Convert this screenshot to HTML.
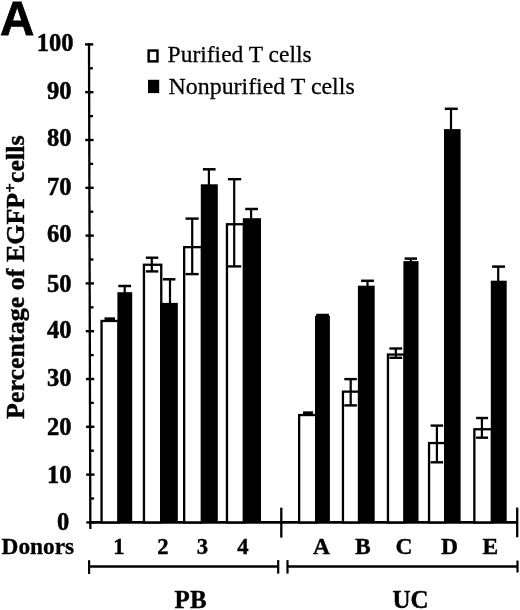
<!DOCTYPE html>
<html><head><meta charset="utf-8"><title>Percentage of EGFP+ cells</title>
<style>
html,body{margin:0;padding:0;background:#fff;}
body{width:520px;height:610px;overflow:hidden;position:relative;}
svg{position:absolute;left:0;top:0;}
.yl{font-family:"Liberation Serif",serif;font-weight:bold;stroke:#000;stroke-width:0.5px;font-size:24.5px;text-anchor:end;letter-spacing:0px;}
.xl{font-family:"Liberation Serif",serif;font-weight:bold;stroke:#000;stroke-width:0.4px;font-size:22.6px;text-anchor:middle;}
.xlL{font-size:23.5px;}
.grp{font-family:"Liberation Serif",serif;font-weight:bold;stroke:#000;stroke-width:0.4px;font-size:25px;text-anchor:middle;}
.don{font-family:"Liberation Serif",serif;font-weight:bold;stroke:#000;stroke-width:0.3px;font-size:22.7px;}
.leg{font-family:"Liberation Serif",serif;stroke:#000;stroke-width:0.25px;font-size:23px;}
.pan{font-family:"Liberation Sans",sans-serif;font-weight:bold;stroke:#000;stroke-width:0.8px;font-size:47.5px;}
.ytl{font-family:"Liberation Serif",serif;font-weight:bold;stroke:#000;stroke-width:0.4px;font-size:26px;}
</style></head>
<body>
<svg width="520" height="610" viewBox="0 0 520 610">
<rect x="0" y="0" width="520" height="610" fill="#fff"/>
<text x="0" y="34.6" class="pan">A</text>
<text transform="translate(24.1,419) rotate(-90)" class="ytl">Percentage of EGFP<tspan font-size="17" dy="-8">+</tspan><tspan dy="8">cells</tspan></text>
<rect x="148.65" y="50.55" width="8.8" height="10.8" fill="#fff" stroke="#000" stroke-width="2.5"/>
<rect x="148" y="79.8" width="11.2" height="13.3" fill="#000"/>
<text transform="translate(167.6,62.4) scale(1.022,1)" class="leg">Purified T cells</text>
<text transform="translate(168.6,93.6) scale(1.038,1)" class="leg">Nonpurified T cells</text>
<text transform="translate(1.5,554.2) scale(1.03,1)" class="don">Donors</text>
<text x="190.6" y="607.9" class="grp">PB</text>
<text x="410.5" y="608" class="grp">UC</text>
<line x1="89.00" y1="43.2" x2="90.34" y2="529" stroke="#000" stroke-width="2.3"/>
<line x1="86.32" y1="522.4" x2="94.62" y2="522.4" stroke="#000" stroke-width="2.4"/>
<line x1="90.26" y1="498.5" x2="94.06" y2="498.5" stroke="#000" stroke-width="2.3"/>
<line x1="86.19" y1="474.6" x2="94.49" y2="474.6" stroke="#000" stroke-width="2.4"/>
<line x1="90.12" y1="450.7" x2="93.92" y2="450.7" stroke="#000" stroke-width="2.3"/>
<line x1="86.06" y1="426.8" x2="94.36" y2="426.8" stroke="#000" stroke-width="2.4"/>
<line x1="89.99" y1="402.9" x2="93.79" y2="402.9" stroke="#000" stroke-width="2.3"/>
<line x1="85.93" y1="379.0" x2="94.23" y2="379.0" stroke="#000" stroke-width="2.4"/>
<line x1="89.86" y1="355.1" x2="93.66" y2="355.1" stroke="#000" stroke-width="2.3"/>
<line x1="85.79" y1="331.2" x2="94.09" y2="331.2" stroke="#000" stroke-width="2.4"/>
<line x1="89.73" y1="307.3" x2="93.53" y2="307.3" stroke="#000" stroke-width="2.3"/>
<line x1="85.66" y1="283.4" x2="93.96" y2="283.4" stroke="#000" stroke-width="2.4"/>
<line x1="89.60" y1="259.5" x2="93.40" y2="259.5" stroke="#000" stroke-width="2.3"/>
<line x1="85.53" y1="235.6" x2="93.83" y2="235.6" stroke="#000" stroke-width="2.4"/>
<line x1="89.46" y1="211.7" x2="93.26" y2="211.7" stroke="#000" stroke-width="2.3"/>
<line x1="85.40" y1="187.8" x2="93.70" y2="187.8" stroke="#000" stroke-width="2.4"/>
<line x1="89.33" y1="163.9" x2="93.13" y2="163.9" stroke="#000" stroke-width="2.3"/>
<line x1="85.27" y1="140.0" x2="93.57" y2="140.0" stroke="#000" stroke-width="2.4"/>
<line x1="89.20" y1="116.1" x2="93.00" y2="116.1" stroke="#000" stroke-width="2.3"/>
<line x1="85.13" y1="92.2" x2="93.43" y2="92.2" stroke="#000" stroke-width="2.4"/>
<line x1="89.07" y1="68.3" x2="92.87" y2="68.3" stroke="#000" stroke-width="2.3"/>
<line x1="85.00" y1="44.4" x2="93.30" y2="44.4" stroke="#000" stroke-width="2.4"/>
<line x1="89" y1="522.4" x2="517.2" y2="522.4" stroke="#000" stroke-width="2.6"/>
<line x1="281.3" y1="507.7" x2="281.3" y2="537.6" stroke="#000" stroke-width="2.3"/>
<line x1="517.2" y1="507.6" x2="517.2" y2="537.3" stroke="#000" stroke-width="2.3"/>
<line x1="89.1" y1="566.5" x2="278.2" y2="566.5" stroke="#000" stroke-width="2.5"/>
<line x1="89.1" y1="560.2" x2="89.1" y2="574" stroke="#000" stroke-width="2.2"/>
<line x1="278.2" y1="560.1" x2="278.2" y2="573.6" stroke="#000" stroke-width="2.2"/>
<line x1="287.5" y1="566.6" x2="517.5" y2="566.6" stroke="#000" stroke-width="2.5"/>
<line x1="287.5" y1="560.1" x2="287.5" y2="573.6" stroke="#000" stroke-width="2.2"/>
<line x1="517.5" y1="560.5" x2="517.5" y2="572.5" stroke="#000" stroke-width="2.2"/>
<rect x="101.55" y="320.95" width="17.00" height="201.45" fill="#fff" stroke="#000" stroke-width="2.3"/>
<line x1="104.5" y1="318.8" x2="115.0" y2="318.8" stroke="#000" stroke-width="2.9"/>
<rect x="117.40" y="292.20" width="14.80" height="230.20" fill="#000"/>
<line x1="118.3" y1="286.0" x2="131.1" y2="286.0" stroke="#000" stroke-width="2.5"/>
<line x1="124.7" y1="286.0" x2="124.7" y2="293.2" stroke="#000" stroke-width="2.2"/>
<rect x="143.95" y="264.75" width="17.30" height="257.65" fill="#fff" stroke="#000" stroke-width="2.3"/>
<line x1="145.9" y1="257.7" x2="158.3" y2="257.7" stroke="#000" stroke-width="2.4"/>
<line x1="145.9" y1="271.4" x2="158.3" y2="271.4" stroke="#000" stroke-width="2.4"/>
<line x1="151.8" y1="257.7" x2="151.8" y2="271.4" stroke="#000" stroke-width="2.2"/>
<rect x="160.10" y="302.90" width="17.70" height="219.50" fill="#000"/>
<line x1="162.9" y1="279.3" x2="175.4" y2="279.3" stroke="#000" stroke-width="2.5"/>
<line x1="170.0" y1="279.3" x2="170.0" y2="303.9" stroke="#000" stroke-width="2.2"/>
<rect x="184.15" y="247.15" width="17.80" height="275.25" fill="#fff" stroke="#000" stroke-width="2.3"/>
<line x1="185.5" y1="218.6" x2="198.7" y2="218.6" stroke="#000" stroke-width="2.4"/>
<line x1="185.5" y1="274.1" x2="198.7" y2="274.1" stroke="#000" stroke-width="2.4"/>
<line x1="192.2" y1="218.6" x2="192.2" y2="274.1" stroke="#000" stroke-width="2.2"/>
<rect x="200.80" y="184.30" width="17.00" height="338.10" fill="#000"/>
<line x1="202.9" y1="169.3" x2="215.6" y2="169.3" stroke="#000" stroke-width="2.5"/>
<line x1="208.9" y1="169.3" x2="208.9" y2="185.3" stroke="#000" stroke-width="2.2"/>
<rect x="226.95" y="224.25" width="17.00" height="298.15" fill="#fff" stroke="#000" stroke-width="2.3"/>
<line x1="227.9" y1="179.2" x2="241.2" y2="179.2" stroke="#000" stroke-width="2.4"/>
<line x1="227.9" y1="266.4" x2="241.2" y2="266.4" stroke="#000" stroke-width="2.4"/>
<line x1="234.2" y1="179.2" x2="234.2" y2="266.4" stroke="#000" stroke-width="2.2"/>
<rect x="242.80" y="218.20" width="18.20" height="304.20" fill="#000"/>
<line x1="245.2" y1="209.0" x2="258.0" y2="209.0" stroke="#000" stroke-width="2.5"/>
<line x1="251.1" y1="209.0" x2="251.1" y2="219.2" stroke="#000" stroke-width="2.2"/>
<rect x="299.15" y="415.05" width="17.00" height="107.35" fill="#fff" stroke="#000" stroke-width="2.3"/>
<line x1="303.0" y1="412.8" x2="313.1" y2="412.8" stroke="#000" stroke-width="2.9"/>
<rect x="315.00" y="315.80" width="14.90" height="206.60" fill="#000"/>
<line x1="316.2" y1="315.0" x2="328.9" y2="315.0" stroke="#000" stroke-width="2.5"/>
<line x1="322.5" y1="315.0" x2="322.5" y2="316.8" stroke="#000" stroke-width="2.2"/>
<rect x="342.95" y="391.65" width="16.10" height="130.75" fill="#fff" stroke="#000" stroke-width="2.3"/>
<line x1="344.3" y1="379.1" x2="356.9" y2="379.1" stroke="#000" stroke-width="2.4"/>
<line x1="344.3" y1="405.4" x2="356.9" y2="405.4" stroke="#000" stroke-width="2.4"/>
<line x1="350.7" y1="379.1" x2="350.7" y2="405.4" stroke="#000" stroke-width="2.2"/>
<rect x="357.90" y="285.70" width="16.80" height="236.70" fill="#000"/>
<line x1="361.1" y1="280.8" x2="373.9" y2="280.8" stroke="#000" stroke-width="2.5"/>
<line x1="367.5" y1="280.8" x2="367.5" y2="286.7" stroke="#000" stroke-width="2.2"/>
<rect x="387.95" y="354.55" width="16.60" height="167.85" fill="#fff" stroke="#000" stroke-width="2.3"/>
<line x1="389.4" y1="348.5" x2="402.2" y2="348.5" stroke="#000" stroke-width="2.4"/>
<line x1="389.4" y1="357.8" x2="402.2" y2="357.8" stroke="#000" stroke-width="2.4"/>
<line x1="395.8" y1="348.5" x2="395.8" y2="357.8" stroke="#000" stroke-width="2.2"/>
<rect x="403.40" y="261.10" width="15.10" height="261.30" fill="#000"/>
<line x1="404.6" y1="258.6" x2="417.0" y2="258.6" stroke="#000" stroke-width="2.5"/>
<line x1="410.8" y1="258.6" x2="410.8" y2="262.1" stroke="#000" stroke-width="2.2"/>
<rect x="429.05" y="443.05" width="16.10" height="79.35" fill="#fff" stroke="#000" stroke-width="2.3"/>
<line x1="430.6" y1="425.6" x2="443.1" y2="425.6" stroke="#000" stroke-width="2.4"/>
<line x1="430.6" y1="462.3" x2="443.1" y2="462.3" stroke="#000" stroke-width="2.4"/>
<line x1="436.9" y1="425.6" x2="436.9" y2="462.3" stroke="#000" stroke-width="2.2"/>
<rect x="444.00" y="129.10" width="16.60" height="393.30" fill="#000"/>
<line x1="444.8" y1="108.8" x2="457.8" y2="108.8" stroke="#000" stroke-width="2.5"/>
<line x1="451.0" y1="108.8" x2="451.0" y2="130.1" stroke="#000" stroke-width="2.2"/>
<rect x="474.35" y="429.25" width="17.60" height="93.15" fill="#fff" stroke="#000" stroke-width="2.3"/>
<line x1="476.1" y1="418.0" x2="488.1" y2="418.0" stroke="#000" stroke-width="2.4"/>
<line x1="476.1" y1="437.7" x2="488.1" y2="437.7" stroke="#000" stroke-width="2.4"/>
<line x1="481.9" y1="418.0" x2="481.9" y2="437.7" stroke="#000" stroke-width="2.2"/>
<rect x="490.80" y="280.70" width="15.90" height="241.70" fill="#000"/>
<line x1="492.1" y1="266.6" x2="505.0" y2="266.6" stroke="#000" stroke-width="2.5"/>
<line x1="498.2" y1="266.6" x2="498.2" y2="281.7" stroke="#000" stroke-width="2.2"/>
<text x="73.6" y="50.8" class="yl">100</text>
<text x="71.6" y="98.7" class="yl">90</text>
<text x="71.6" y="145.9" class="yl">80</text>
<text x="71.6" y="194.7" class="yl">70</text>
<text x="71.6" y="242.4" class="yl">60</text>
<text x="71.6" y="291.8" class="yl">50</text>
<text x="71.6" y="337.9" class="yl">40</text>
<text x="71.6" y="386.4" class="yl">30</text>
<text x="71.6" y="435.3" class="yl">20</text>
<text x="71.6" y="483.4" class="yl">10</text>
<text x="69.2" y="529.8" class="yl">0</text>
<text x="119" y="553.6" class="xl">1</text>
<text x="162.8" y="553.6" class="xl">2</text>
<text x="202.5" y="553.6" class="xl">3</text>
<text x="242.8" y="553.6" class="xl">4</text>
<text x="321.4" y="553.6" class="xl xlL">A</text>
<text x="362.9" y="553.6" class="xl xlL">B</text>
<text x="403.9" y="553.6" class="xl xlL">C</text>
<text x="449.6" y="553.6" class="xl xlL">D</text>
<text x="490.4" y="553.6" class="xl xlL">E</text>
</svg>
</body></html>
